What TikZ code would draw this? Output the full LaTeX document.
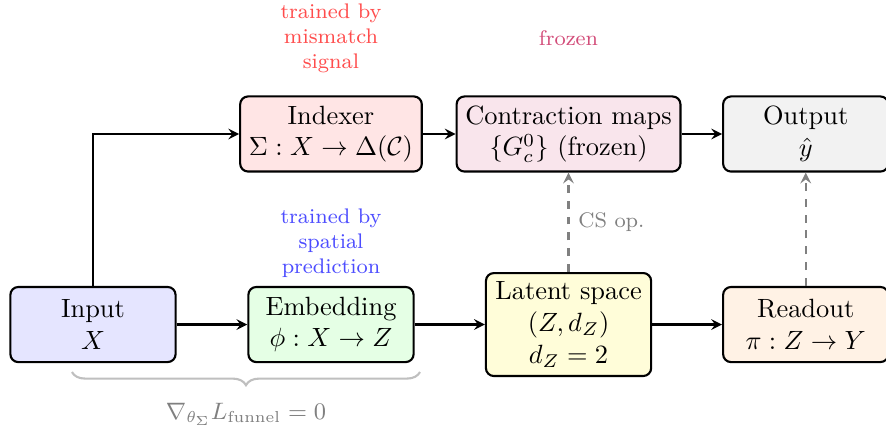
\documentclass[tikz,border=0pt]{standalone}
\usetikzlibrary{decorations.pathreplacing}
\begin{document}
\begin{tikzpicture}[>=stealth,
  box/.style={draw,thick,rounded corners=3pt,align=center,minimum width=2.2cm,minimum height=1cm},
  flow/.style={->,thick},
  csop/.style={->,thick,dashed,gray},
  note/.style={font=\footnotesize,align=center}]
  \useasboundingbox (-1.238,-1.378) rectangle (10.559,4.321);
  % main pipeline
  \node[box,fill=blue!10]   (in)  at (0,0)     {Input\\ $X$};
  \node[box,fill=green!10]  (emb) at (3.169,0) {Embedding\\ $\phi:X\to Z$};
  \node[box,fill=yellow!15] (lat) at (6.332,0) {Latent space\\ $(Z,d_Z)$\\ $d_Z=2$};
  \node[box,fill=orange!10] (ro)  at (9.49,0)  {Readout\\ $\pi:Z\to Y$};
  % upper row
  \node[box,fill=red!10]    (idx) at (3.169,2.537) {Indexer\\ $\Sigma:X\to\Delta(\mathcal{C})$};
  \node[box,fill=purple!10] (cm)  at (6.332,2.537) {Contraction maps\\ $\{G_c^0\}$ (frozen)};
  \node[box,fill=gray!10]   (out) at (9.49,2.537)  {Output\\ $\hat{y}$};
  % training notes
  \node[note,text=red!70]    (tidx) at (3.169,3.815) {trained by\\ mismatch\\ signal};
  \node[note,text=purple!70] (tcm)  at (6.332,3.815) {frozen};
  \node[note,text=blue!70]   (temb) at (3.169,1.085) {trained by\\ spatial\\ prediction};
  % connectors
  \draw[flow] (in) -- (emb);
  \draw[flow] (emb) -- (lat);
  \draw[flow] (lat) -- (ro);
  \draw[flow] (in.north) |- (idx.west);
  \draw[flow] (idx) -- (cm);
  \draw[flow] (cm) -- (out);
  \draw[csop] (lat.north) -- node[right,font=\footnotesize]{CS op.} (cm.south);
  \draw[csop] (ro.north) -- (out.south);
  % funnel brace
  \coordinate (bl) at (-0.28,-0.632);
  \coordinate (br) at (4.354,-0.632);
  \draw[gray!50,thick,decorate,decoration={brace,mirror,amplitude=5pt}] (bl) -- node[below=8pt,text=gray,font=\small]{$\nabla_{\theta_\Sigma}L_{\mathrm{funnel}}=0$} (br);
\end{tikzpicture}
\end{document}
